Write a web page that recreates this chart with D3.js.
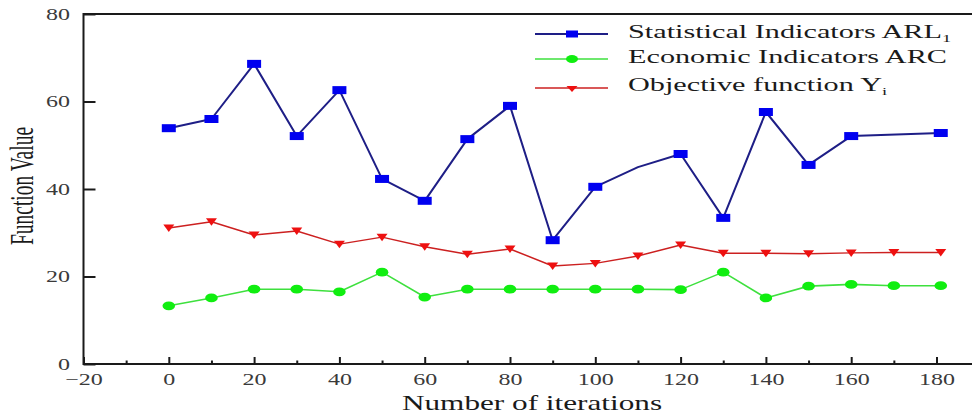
<!DOCTYPE html>
<html>
<head>
<meta charset="utf-8">
<script src="https://cdn.jsdelivr.net/npm/d3@7"></script>
<style>
  html, body { margin: 0; padding: 0; background: #fff; }
  svg { display: block; }
  text { font-family: "Liberation Serif", "Times New Roman", serif; }
</style>
</head>
<body>
<svg id="chart" width="972" height="416"></svg>
<script>
// ---- data ----
const iterations = [0, 10, 20, 30, 40, 50, 60, 70, 80, 90, 100, 110, 120, 130, 140, 150, 160, 170, 181];
const blueIter   = [0, 10, 20, 30, 40, 50, 60, 70, 80, 90, 100, 110, 120, 130, 140, 150, 160, 181];
const arlValues  = [53.9, 56.0, 68.6, 52.1, 62.6, 42.3, 37.3, 51.4, 59.0, 28.3, 40.5, 45.0, 48.0, 33.4, 57.6, 45.5, 52.1, 52.8];
const arlNoMarker = [110];
const arcValues  = [13.3, 15.1, 17.1, 17.1, 16.5, 21.0, 15.3, 17.1, 17.1, 17.1, 17.1, 17.1, 17.0, 21.0, 15.1, 17.8, 18.2, 17.9, 17.9];
const yValues    = [31.1, 32.5, 29.5, 30.4, 27.4, 29.0, 26.8, 25.1, 26.3, 22.4, 23.0, 24.7, 27.2, 25.3, 25.3, 25.2, 25.4, 25.5, 25.5];
const xMajorTicks = [-20, 0, 20, 40, 60, 80, 100, 120, 140, 160, 180];
const xMinorTicks = [-10, 10, 30, 50, 70, 90, 110, 130, 150, 170, 190];
const yTicks = [0, 20, 40, 60, 80];
const legendLabels = [
  {main: "Statistical Indicators ARL", sub: "1"},
  {main: "Economic Indicators ARC", sub: ""},
  {main: "Objective function Y", sub: "i"}
];

// ---- layout ----
const svg = d3.select("#chart");
const pLeft = 83.5, pTop = 14, pBottom = 364;
const x = d3.scaleLinear().domain([-20, 190]).range([pLeft, pLeft + 210 * 4.265]);
const y = d3.scaleLinear().domain([0, 80]).range([pBottom, pTop]);
const SX = 1.68; // horizontal stretch of the original image

const blueLine = "#1e1e86", blueFill = "#0000f0";
const greenLine = "#3ee03e", greenFill = "#10ee10";
const redLine = "#cc2020", redFill = "#ee1010";
const axisCol = "#1a1a1a";

// ---- axes ----
const gx = svg.append("g").attr("transform", `translate(0,${pBottom})`)
  .call(d3.axisBottom(x).tickValues(xMajorTicks).tickSize(-7).tickPadding(0));
gx.select(".domain").remove();
gx.selectAll("line").attr("stroke", axisCol).attr("stroke-width", 2);
gx.selectAll("text").attr("y", 21).attr("dy", 0)
  .attr("font-size", 16).attr("fill", "#3a3a3a")
  .attr("font-family", "Liberation Serif, serif")
  .attr("transform", `scale(1.5,1)`);

const gxm = svg.append("g").attr("transform", `translate(0,${pBottom})`)
  .call(d3.axisBottom(x).tickValues(xMinorTicks).tickSize(-3.5).tickFormat(""));
gxm.select(".domain").remove();
gxm.selectAll("line").attr("stroke", axisCol).attr("stroke-width", 2);

const gy = svg.append("g").attr("transform", `translate(${pLeft},0)`)
  .call(d3.axisLeft(y).tickValues(yTicks).tickSize(-12));
gy.select(".domain").remove();
gy.selectAll("line").attr("stroke", axisCol).attr("stroke-width", 2);
gy.selectAll("text").attr("x", -9).attr("font-size", 16).attr("fill", "#3a3a3a")
  .attr("font-family", "Liberation Serif, serif")
  .attr("transform", `scale(1.5,1)`);

// frame
svg.append("path")
  .attr("d", `M972,${pTop}H${pLeft}V${pBottom}H972`)
  .attr("fill", "none").attr("stroke", axisCol).attr("stroke-width", 2);

// ---- series ----
function drawLine(xs, vs, color, w) {
  svg.append("path")
    .datum(xs.map((d, i) => [d, vs[i]]))
    .attr("fill", "none").attr("stroke", color).attr("stroke-width", w)
    .attr("stroke-linejoin", "round")
    .attr("d", d3.line().x(d => x(d[0])).y(d => y(d[1])));
}
drawLine(iterations, yValues, redLine, 1.5);
drawLine(iterations, arcValues, greenLine, 1.6);
drawLine(blueIter, arlValues, blueLine, 2);

// markers
svg.append("g").selectAll("path")
  .data(iterations.map((d, i) => [d, yValues[i]]))
  .join("path")
  .attr("d", d => { const cx = x(d[0]), cy = y(d[1]); return `M${cx-5.5},${cy-3.5}L${cx+5.5},${cy-3.5}L${cx},${cy+4}Z`; })
  .attr("fill", redFill);

svg.append("g").selectAll("ellipse")
  .data(iterations.map((d, i) => [d, arcValues[i]]))
  .join("ellipse")
  .attr("cx", d => x(d[0])).attr("cy", d => y(d[1]))
  .attr("rx", 6.3).attr("ry", 4.4).attr("fill", greenFill);

svg.append("g").selectAll("rect")
  .data(blueIter.map((d, i) => [d, arlValues[i]]).filter(d => !arlNoMarker.includes(d[0])))
  .join("rect")
  .attr("x", d => x(d[0]) - 7).attr("y", d => y(d[1]) - 4)
  .attr("width", 14).attr("height", 8).attr("fill", blueFill);

// ---- legend ----
const legRows = [34, 59, 88];
const legX1 = 535, legX2 = 608, legM = 572, legT = 628;
const lg = svg.append("g");
[[blueLine, 2], [greenLine, 1.6], [redLine, 1.5]].forEach((c, i) => {
  lg.append("line").attr("x1", legX1).attr("x2", legX2)
    .attr("y1", legRows[i]).attr("y2", legRows[i])
    .attr("stroke", c[0]).attr("stroke-width", c[1]);
});
lg.append("rect").attr("x", legM - 6).attr("y", legRows[0] - 3.5).attr("width", 12).attr("height", 7).attr("fill", blueFill);
lg.append("ellipse").attr("cx", legM).attr("cy", legRows[1]).attr("rx", 6).attr("ry", 4).attr("fill", greenFill);
lg.append("path").attr("d", `M${legM-5.5},${legRows[2]-2}L${legM+5.5},${legRows[2]-2}L${legM},${legRows[2]+4}Z`).attr("fill", redFill);

const baselines = [38, 63, 91];
legendLabels.forEach((l, i) => {
  const t = lg.append("text")
    .attr("transform", `translate(${legT},${baselines[i]}) scale(${SX},1)`)
    .attr("font-size", 18).attr("fill", "#1a1a1a");
  t.append("tspan").text(l.main);
  if (l.sub) t.append("tspan").attr("font-size", 11).attr("dx", 0).attr("dy", 4).text(l.sub);
});

// ---- titles ----
svg.append("text")
  .attr("transform", `translate(532,410) scale(1.42,1)`)
  .attr("text-anchor", "middle").attr("font-size", 22).attr("fill", "#1a1a1a")
  .text("Number of iterations");

svg.append("text")
  .attr("transform", `translate(32.5,186) rotate(-90) scale(1,${SX})`)
  .attr("text-anchor", "middle").attr("font-size", 19.5).attr("fill", "#1a1a1a")
  .text("Function Value");
</script>
</body>
</html>
